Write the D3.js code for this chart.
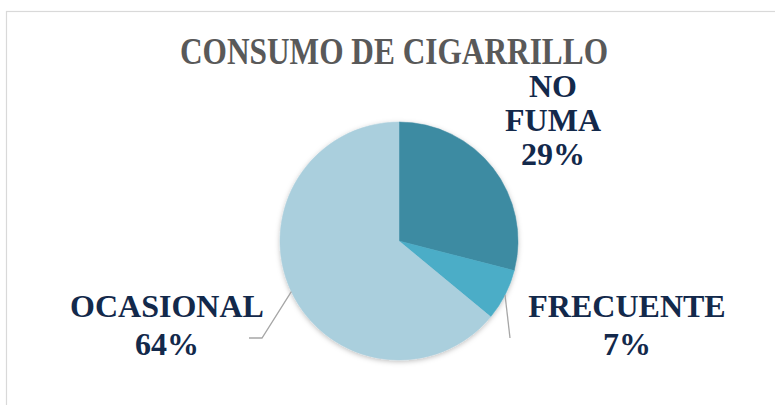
<!DOCTYPE html>
<html>
<head>
<meta charset="utf-8">
<script src="https://cdn.jsdelivr.net/npm/d3@7"></script>
<style>
  body { margin: 0; background: #fff; }
  svg { display: block; }
</style>
</head>
<body>
<svg id="chart" width="775" height="405"></svg>
<script>
const categories = ["NO FUMA", "FRECUENTE", "OCASIONAL"];
const values = [29, 7, 64];
const labelLines = [["NO", "FUMA", "29%"], ["FRECUENTE", "7%"], ["OCASIONAL", "64%"]];
const colors = ["#3E8BA2", "#4BADC7", "#AACFDD"];
const chartTitle = "CONSUMO DE CIGARRILLO";

const svg = d3.select("#chart")
  .style("font-family", "'Times New Roman', 'Liberation Serif', Times, serif")
  .style("font-weight", "bold");
const width = 775, height = 405;

// chart area border (right/bottom edges fall outside the picture)
svg.append("rect")
  .attr("x", 6.5).attr("y", 11.5)
  .attr("width", 800).attr("height", 420)
  .attr("fill", "#fff")
  .attr("stroke", "#D9D9D9")
  .attr("stroke-width", 1.2);

const defs = svg.append("defs");
const filter = defs.append("filter").attr("id", "shadow")
  .attr("x", "-20%").attr("y", "-20%").attr("width", "140%").attr("height", "140%");
filter.append("feDropShadow")
  .attr("dx", 0).attr("dy", 1.5)
  .attr("stdDeviation", 2.5)
  .attr("flood-color", "#000")
  .attr("flood-opacity", 0.25);

// Title
svg.append("text")
  .attr("x", 394)
  .attr("y", 64)
  .attr("text-anchor", "middle")
  .attr("font-size", 37)
  .attr("fill", "#595959")
  .attr("textLength", 428)
  .attr("lengthAdjust", "spacingAndGlyphs")
  .text(chartTitle);

const cx = 399, cy = 241, r = 119;
const data = categories.map((c, i) => ({ name: c, value: values[i], lines: labelLines[i], color: colors[i] }));

const pie = d3.pie().sort(null).value(d => d.value);
const arc = d3.arc().innerRadius(0).outerRadius(r);
const arcs = pie(data);

const g = svg.append("g").attr("transform", `translate(${cx},${cy})`);
g.append("g").attr("filter", "url(#shadow)")
  .selectAll("path")
  .data(arcs)
  .enter()
  .append("path")
  .attr("d", arc)
  .attr("fill", d => d.data.color)
  .attr("stroke", d => d.data.color)
  .attr("stroke-width", 0.5);

// label placement (center x, first baseline y, line spacing), relative to page
const labelPos = {
  "NO FUMA": { x: 553, y: 97, dy: 34, leader: null },
  "FRECUENTE": { x: 627, y: 317, dy: 38, leader: [[510, 338]] },
  "OCASIONAL": { x: 167, y: 317, dy: 38, leader: [[262, 338], [249, 338]] }
};

arcs.forEach(a => {
  const p = labelPos[a.data.name];
  if (p.leader) {
    const mid = (a.startAngle + a.endAngle) / 2;
    const start = [cx + Math.sin(mid) * r, cy - Math.cos(mid) * r];
    svg.append("path")
      .attr("d", d3.line()([start, ...p.leader]))
      .attr("fill", "none")
      .attr("stroke", "#A6A6A6")
      .attr("stroke-width", 1.3);
  }
  const t = svg.append("text")
    .attr("text-anchor", "middle")
    .attr("font-size", 32)
    .attr("fill", "#13294B");
  a.data.lines.forEach((line, i) => {
    t.append("tspan")
      .attr("x", p.x)
      .attr("y", p.y + i * p.dy)
      .text(line);
  });
});
</script>
</body>
</html>
